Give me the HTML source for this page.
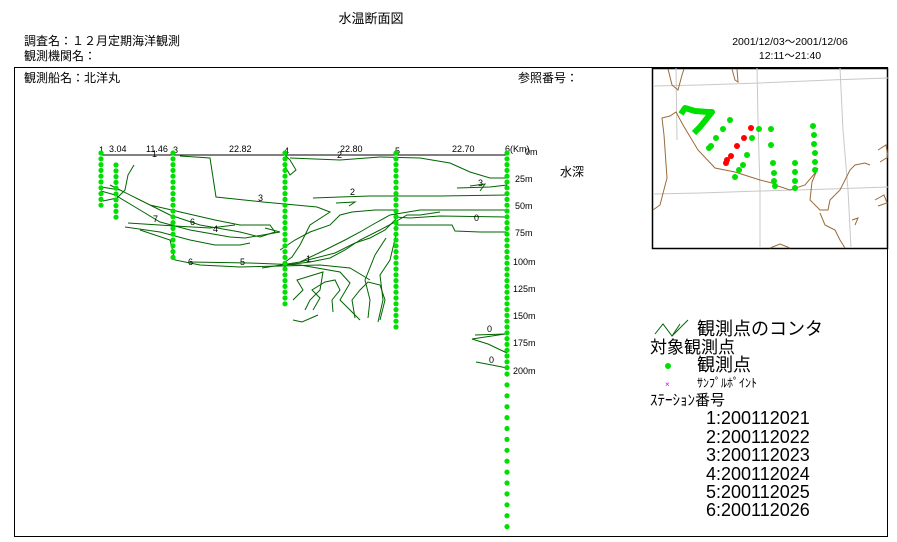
<!DOCTYPE html>
<html><head><meta charset="utf-8">
<style>
body{margin:0;background:#fff;width:897px;height:542px;overflow:hidden}
svg{display:block}
text{font-family:"Liberation Sans","Noto Sans CJK JP",sans-serif;fill:#000}
</style></head><body>
<svg id="s" width="897" height="542" viewBox="0 0 897 542" xmlns="http://www.w3.org/2000/svg">
<rect x="0" y="0" width="897" height="542" fill="#fff"/>
<text x="371" y="23" font-size="13" text-anchor="middle">水温断面図</text>
<text x="24" y="45" font-size="12">調査名：１２月定期海洋観測</text>
<text x="24" y="60" font-size="12">観測機関名：</text>
<text x="790" y="45" font-size="10.5" text-anchor="middle">2001/12/03～2001/12/06</text>
<text x="790" y="59" font-size="10.5" text-anchor="middle">12:11～21:40</text>
<rect x="14.5" y="67.5" width="873" height="469" fill="none" stroke="#000" stroke-width="1"/>
<text x="24" y="82" font-size="12">観測船名：北洋丸</text>
<text x="518" y="82" font-size="12">参照番号：</text>

<!-- map -->
<g>
<rect x="652.5" y="68.5" width="235" height="180" fill="#fff" stroke="#000" stroke-width="1.5"/>
<g stroke="#c8c8c8" fill="none" stroke-width="1">
<polyline points="653,86 700,85 760,83 830,80 888,78"/>
<polyline points="653,194 700,193 760,191 830,189 888,187"/>
<polyline points="676,68 677,140"/>
<polyline points="757,68 758,120 760,190 760,248"/>
<polyline points="840,68 843,130 848,190 851,248"/>
</g>
<g stroke="#9a6a3a" fill="none" stroke-width="1">
<polyline points="668,69 672,85 678,90 682,75 684,69"/>
<polyline points="732,69 735,80 738,82 737,69"/>
<polyline points="653,210 660,205 667,178 664,135 662,118 670,116 676,112 683,125 698,150 715,168 735,172 760,180 772,183 778,186 790,190 805,185 816,172 818,168 817,170 812,182 810,200 820,210 828,210 830,200 840,190 850,170 855,165 865,163 870,165"/>
<polyline points="820,213 825,225 835,230 840,240 845,248"/>
<polyline points="878,150 886,145 888,157 880,162"/>
<polyline points="875,200 884,195 887,203 878,206"/>
<polyline points="852,220 858,218 855,225"/>
<polyline points="770,248 780,244 790,248"/>
</g>
<g stroke="#00e000" stroke-width="6" fill="none" stroke-linejoin="round">
<polyline points="681,114 685,108 695,111 708,112 712,112 700,127 694,133"/>
</g>
<g fill="#00e000" id="mapg"></g>
<g fill="#ff0000">
<circle cx="751" cy="128" r="3"/><circle cx="744" cy="138" r="3"/><circle cx="737" cy="146" r="3"/><circle cx="731" cy="156" r="3"/><circle cx="727" cy="160" r="3"/><circle cx="726" cy="163" r="3"/>
</g>
</g>

<!-- section -->
<line x1="101" y1="155" x2="507" y2="155" stroke="#000" stroke-width="1"/>
<g font-size="9">
<text x="99" y="153">1</text><text x="109" y="152">3.04</text><text x="146" y="152">11.46</text><text x="173" y="153">3</text>
<text x="229" y="152">22.82</text><text x="284" y="154">4</text><text x="340" y="152">22.80</text><text x="395" y="154">5</text>
<text x="452" y="152">22.70</text><text x="505" y="152">6(Km)</text>
<text x="525" y="155">0m</text><text x="515" y="182">25m</text><text x="515" y="209">50m</text><text x="515" y="236">75m</text>
<text x="513" y="265">100m</text><text x="513" y="292">125m</text><text x="513" y="319">150m</text><text x="513" y="346">175m</text><text x="513" y="374">200m</text>
</g>
<text x="560" y="176" font-size="12">水深</text>
<g stroke="#006400" fill="none" stroke-width="1">
<polyline points="180,156 210,158 216,197 263,202 317,207 330,212 310,225 300,245 292,257 285,262"/>
<polyline points="134,165 128,175 125,190 117,198 103,201"/>
<polyline points="101,187 120,190 150,205 215,220 240,225 270,225 275,232 260,237 240,232 200,225 170,215 140,200 110,185"/>
<polyline points="101,191 115,195 140,210 160,222 190,230 230,237 245,238 280,232 265,228"/>
<polyline points="128,223 175,226 210,228 235,225"/>
<polyline points="125,227 160,232 190,240 215,245 240,245 250,243"/>
<polyline points="140,230 170,240 175,260 200,265 240,267 282,266 320,265 350,268 370,280"/>
<polyline points="190,262 250,263 300,265 340,272 350,283 340,300 360,320"/>
<polyline points="280,250 295,240 310,232 330,225 340,215 352,212 375,210 395,210"/>
<polyline points="300,262 325,250 345,240 360,232 372,225 390,215 420,210 470,210 507,210"/>
<polyline points="285,265 310,262 330,258 345,250 360,240 380,230 395,222 407,215 420,215 440,212"/>
<polyline points="262,268 300,262 335,253 355,243 370,238 385,230 397,218"/>
<polyline points="293,300 303,290 297,280 310,276 323,272 320,290 310,300 305,310"/>
<polyline points="313,310 320,298 312,290 325,282 335,280 340,290 332,300 333,312"/>
<polyline points="355,318 352,300 360,290 368,282 380,285 385,300 380,320"/>
<polyline points="293,320 302,322 318,315"/>
<polyline points="285,155 290,160 296,170 290,175 285,166"/>
<polyline points="290,158 340,160 380,157 420,158 450,163 470,172 490,178 507,178"/>
<polyline points="313,198 340,197 370,196 400,196 440,196 507,195"/>
<polyline points="336,203 355,202 349,206"/>
<polyline points="457,188 490,187 507,185"/>
<polyline points="470,186 485,184 480,191"/>
<polyline points="395,217 410,218 440,216 507,217"/>
<polyline points="395,225 425,225 448,225 450,225 452,225 455,231 480,232 507,232"/>
<polyline points="396,235 390,260 380,275 383,300 378,322"/>
<polyline points="386,238 375,255 365,280 370,300 368,318"/>
<polyline points="475,335 505,334"/>
<polyline points="505,334 472,339 488,344 507,353"/>
<polyline points="476,362 492,365 507,368"/>
</g>
<g font-size="9">
<text x="478" y="186">3</text><text x="350" y="195">2</text><text x="474" y="221">0</text><text x="258" y="201">3</text>
<text x="153" y="222">7</text><text x="190" y="225">6</text><text x="213" y="232">4</text><text x="306" y="262">1</text>
<text x="240" y="265">5</text><text x="188" y="265">6</text><text x="487" y="332">0</text><text x="489" y="363">0</text>
<text x="337" y="158">2</text><text x="152" y="157">1</text>
</g>
<g fill="#00e000" id="dots"></g>

<!-- legend -->
<polyline points="655,334 663,324 672,336 680,324" stroke="#006400" fill="none" stroke-width="1"/>
<polyline points="672,336 688,320" stroke="#006400" fill="none" stroke-width="1"/>
<g font-size="18">
<text x="697" y="335">観測点のコンタ</text>
<text x="650" y="353" font-size="17">対象観測点</text>
<text x="697" y="371">観測点</text>
<text x="706" y="424">1:200112021</text>
<text x="706" y="443">2:200112022</text>
<text x="706" y="461">3:200112023</text>
<text x="706" y="480">4:200112024</text>
<text x="706" y="498">5:200112025</text>
<text x="706" y="516">6:200112026</text>
</g>
<text x="650" y="405" font-size="15">ｽﾃｰｼｮﾝ番号</text>
<text x="697" y="387" font-size="12">ｻﾝﾌﾟﾙﾎﾟｲﾝﾄ</text>
<circle cx="668" cy="366" r="3" fill="#00e000"/>
<text x="665" y="387" font-size="8" style="fill:#d000d0">×</text>
</svg>
<script>
var ns="http://www.w3.org/2000/svg";
function dot(g,x,y,r){var c=document.createElementNS(ns,"circle");c.setAttribute("cx",x);c.setAttribute("cy",y);c.setAttribute("r",r);g.appendChild(c);}
var d=document.getElementById("dots");
var cols=[[101,153,208],[116,165,222],[173,153,263],[285,153,307],[396,153,330],[507,153,370]];
cols.forEach(function(c){for(var y=c[1];y<=c[2];y+=5.8)dot(d,c[0],y,2.6);});
for(var y=374;y<=530;y+=10.9)dot(d,507,y,2.6);
var m=document.getElementById("mapg");
[[730,120],[723,129],[716,138],[711,146],[709,148],[759,129],[752,138],[747,155],[743,165],[739,170],[735,177],[771,129],[771,145],[773,163],[774,173],[774,181],[775,186],[795,163],[795,172],[795,181],[795,188],[813,126],[814,135],[814,144],[815,153],[815,162],[815,170]].forEach(function(p){dot(m,p[0],p[1],3);});
</script>
</body></html>
